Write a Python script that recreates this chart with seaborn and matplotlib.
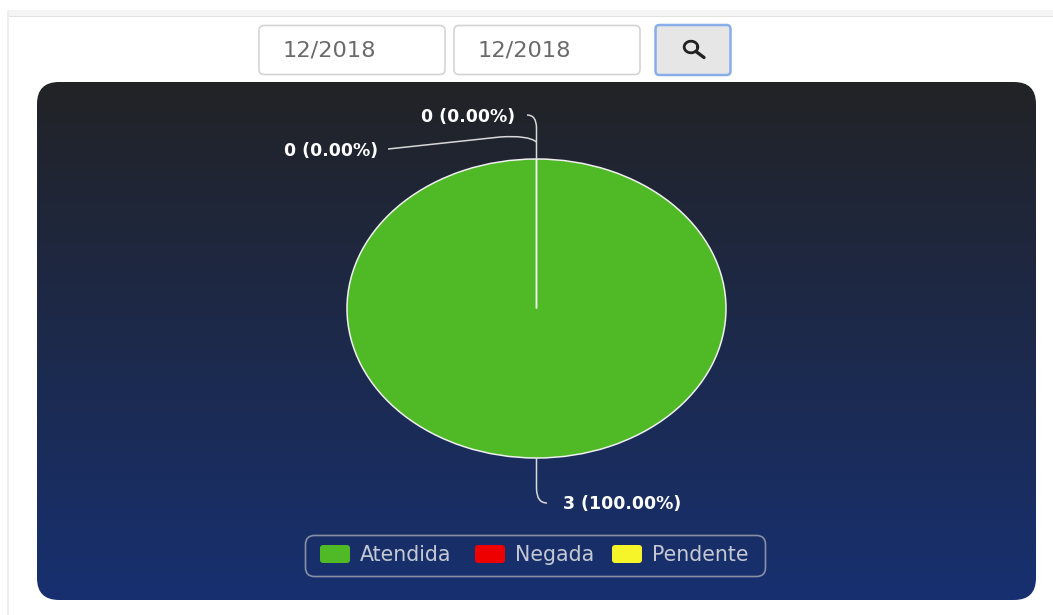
import numpy as np
import matplotlib
matplotlib.use("Agg")
import matplotlib.pyplot as plt
from matplotlib.patches import FancyBboxPatch, Rectangle
from matplotlib.path import Path
from matplotlib.patches import PathPatch
from matplotlib.colors import LinearSegmentedColormap
import seaborn as sns

categories = ["Atendida", "Negada", "Pendente"]
values = [3, 0, 0]
slice_colors = ["#4FB926", "#EE0000", "#F5F52A"]
date_from = "12/2018"
date_to = "12/2018"

sns.set_theme(style="white")
plt.rcParams["font.family"] = ["DejaVu Sans"]
palette = sns.color_palette(slice_colors)

W, H = 1053, 615
fig = plt.figure(figsize=(W / 100, H / 100), dpi=100, facecolor="white")
bg = fig.add_axes([0, 0, 1, 1])
bg.set_xlim(0, W)
bg.set_ylim(H, 0)
bg.axis("off")

# page chrome
bg.add_patch(Rectangle((7, 10), W - 7, 5.5, fc="#f4f4f4", ec="none"))
bg.add_patch(Rectangle((7, 15.5), W - 7, 1.3, fc="#e2e2e2", ec="none"))
bg.add_patch(Rectangle((7, 10), 2.2, H - 10, fc="#eeeeee", ec="none"))


def rbox(x0, y0, x1, y1, r, **kw):
    p = FancyBboxPatch((x0 + r, y0 + r), x1 - x0 - 2 * r, y1 - y0 - 2 * r,
                       boxstyle=f"round,pad={r},rounding_size={r}", **kw)
    bg.add_patch(p)
    return p


# inputs
for x0, x1, txt, tx in [(259, 445, date_from, 283), (454, 640, date_to, 478)]:
    rbox(x0, 25.5, x1, 74.5, 5, fc="white", ec="#d4d4d4", lw=1.2)
    bg.text(tx, 50, txt, family="DejaVu Sans", fontsize=16.2, color="#6a6a6a",
            va="center", ha="left")

# search button
rbox(655.5, 25, 730.5, 75, 4, fc="#e6e6e6", ec="#86aee8", lw=1.8)
t = np.linspace(0, 2 * np.pi, 60)
bg.plot(691 + 6.8 * np.cos(t), 47 + 5.8 * np.sin(t), color="#222222", lw=2.0)
bg.plot([696, 704], [51.5, 57.5], color="#222222", lw=2.4, solid_capstyle="round")

# chart panel with vertical gradient
panel = rbox(37, 82, 1036, 600, 22, fc="none", ec="none")
cmap = LinearSegmentedColormap.from_list("panel", ["#222326", "#173070"])
im = bg.imshow(np.linspace(0, 1, 256)[:, None], cmap=cmap, aspect="auto",
               extent=(37, 1036, 600, 82), zorder=1)
im.set_clip_path(panel)
bg.set_xlim(0, W)
bg.set_ylim(H, 0)

# pie
cx, cy, rx, ry = 536.5, 308.5, 189.5, 149.5
pie_ax = fig.add_axes([(cx - rx - 5) / W, 1 - (cy + ry + 5) / H,
                       (2 * rx + 10) / W, (2 * ry + 10) / H])
pie_ax.patch.set_alpha(0)
pie_ax.pie(values, colors=palette, startangle=90, counterclock=False, radius=1,
           wedgeprops=dict(edgecolor="#f0f0f0", linewidth=1.1))
pie_ax.set_aspect("auto")
pie_ax.set_xlim(-1 - 5 / rx, 1 + 5 / rx)
pie_ax.set_ylim(-1 - 5 / ry, 1 + 5 / ry)

# overlay for labels, leaders and legend
ov = fig.add_axes([0, 0, 1, 1], zorder=5)
ov.set_xlim(0, W)
ov.set_ylim(H, 0)
ov.axis("off")
ov.patch.set_alpha(0)

total = sum(values)
labels = [f"{v} ({v / total * 100:.2f}%)" for v in values]
label_pos = [(563, 504, "left"), (378, 151, "right"), (515, 117, "right")]
for lab, (x, y, ha) in zip(labels, label_pos):
    ov.text(x, y, lab, family="DejaVu Sans", color="white", fontsize=12.5,
            fontweight="bold", ha=ha, va="center")

leaders = [
    ([(536.5, 458), (536.5, 488), (536.5, 503), (547, 503)],
     [Path.MOVETO, Path.LINETO, Path.CURVE3, Path.CURVE3]),
    ([(388, 149), (500, 137), (528, 135), (536.5, 142)],
     [Path.MOVETO, Path.LINETO, Path.CURVE3, Path.CURVE3]),
    ([(527, 115), (536.5, 115), (536.5, 128), (536.5, 159)],
     [Path.MOVETO, Path.CURVE3, Path.CURVE3, Path.LINETO]),
]
for verts, codes in leaders:
    ov.add_patch(PathPatch(Path(verts, codes), fc="none", ec="#d8d8d8", lw=1.1))

# legend
p = FancyBboxPatch((315, 545), 441, 22, boxstyle="round,pad=9.5,rounding_size=9",
                   fc="none", ec="#8a90a4", lw=1.2)
ov.add_patch(p)
swatch_x = [320, 475, 612]
text_x = [360, 515, 652]
for cat, col, sx, tx in zip(categories, palette, swatch_x, text_x):
    ov.add_patch(FancyBboxPatch((sx + 3, 548), 24, 12, boxstyle="round,pad=3,rounding_size=3",
                                fc=col, ec="none"))
    ov.text(tx, 555, cat, family="DejaVu Sans", color="#c4c8d2", fontsize=14.8,
            ha="left", va="center")

fig.savefig("out.png", dpi=100, facecolor="white")
